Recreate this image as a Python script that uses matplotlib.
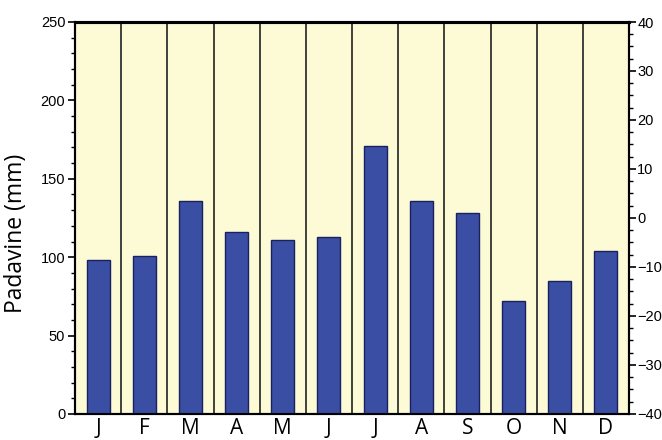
import numpy as np
import matplotlib.pyplot as plt
from matplotlib.ticker import MultipleLocator

months = ['J', 'F', 'M', 'A', 'M', 'J', 'J', 'A', 'S', 'O', 'N', 'D']
precip = [98, 101, 136, 116, 111, 113, 171, 136, 128, 72, 85, 104]

fig = plt.figure(figsize=(6.62, 4.40), dpi=100)
ax = fig.add_axes([0.1133, 0.0591, 0.8369, 0.8909])
ax.set_facecolor('#fdfad6')

x = np.arange(len(months))
ax.bar(x, precip, width=0.5, color='#3a4fa3', edgecolor='#1a2060',
       linewidth=1.0, zorder=3)

# month separators
for i in range(1, len(months)):
    ax.axvline(i - 0.5, color='#222222', linewidth=1.2, zorder=2)

ax.set_xlim(-0.5, len(months) - 0.5)
ax.set_ylim(0, 250)
ax.set_xticks(x)
ax.set_xticklabels(months, fontsize=15, family='Open Sans')
ax.tick_params(axis='x', length=0, pad=3)
ax.yaxis.set_major_locator(MultipleLocator(50))
ax.yaxis.set_minor_locator(MultipleLocator(10))
ax.tick_params(axis='y', which='major', length=5, width=1.2, labelsize=10.5,
               pad=2)
ax.tick_params(axis='y', which='minor', length=3, width=1.0)
for lab in ax.get_yticklabels():
    lab.set_family('Liberation Sans')
ax.set_ylabel('Padavine (mm)', fontsize=16.5, family='Open Sans', labelpad=6)
ax.yaxis.set_label_coords(-0.085, 0.462)

ax2 = ax.twinx()
ax2.set_ylim(-40, 40)
ax2.yaxis.set_major_locator(MultipleLocator(10))
ax2.yaxis.set_minor_locator(MultipleLocator(2.5))
ax2.tick_params(axis='y', which='major', length=5, width=1.2, labelsize=10.5,
                pad=1)
ax2.tick_params(axis='y', which='minor', length=3, width=1.0)
for lab in ax2.get_yticklabels():
    lab.set_family('Liberation Sans')

for a in (ax, ax2):
    for side in ('left', 'right', 'bottom'):
        a.spines[side].set_linewidth(1.5)
    a.spines['top'].set_linewidth(2.2)

fig.savefig('out.png', dpi=100)
